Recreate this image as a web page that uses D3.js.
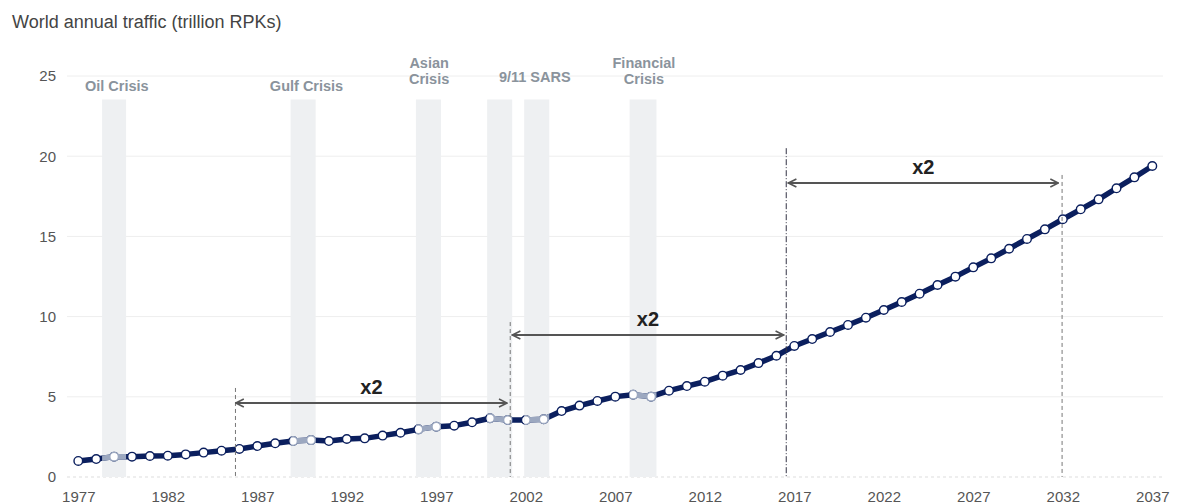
<!DOCTYPE html>
<html>
<head>
<meta charset="utf-8">
<script src="https://cdn.jsdelivr.net/npm/d3@7/dist/d3.min.js"></script>
<style>
  html, body { margin: 0; padding: 0; background: #fff; }
  svg { display: block; font-family: "Liberation Sans", Arial, sans-serif; }
</style>
</head>
<body>
<svg id="chart" width="1177" height="504"></svg>
<script>
// ---- data ----
const years = [1977,1978,1979,1980,1981,1982,1983,1984,1985,1986,1987,1988,1989,1990,1991,1992,1993,1994,1995,1996,
  1997,1998,1999,2000,2001,2002,2003,2004,2005,2006,2007,2008,2009,2010,2011,2012,2013,2014,2015,2016,
  2017,2018,2019,2020,2021,2022,2023,2024,2025,2026,2027,2028,2029,2030,2031,2032,2033,2034,2035,2036,2037];
const traffic = [1.0,1.12,1.27,1.27,1.31,1.33,1.41,1.52,1.64,1.75,1.93,2.1,2.24,2.3,2.24,2.37,2.41,2.58,2.76,2.97,
  3.14,3.2,3.41,3.66,3.55,3.55,3.6,4.11,4.45,4.74,5.01,5.13,5.01,5.38,5.67,5.94,6.32,6.67,7.1,7.56,
  8.17,8.6,9.04,9.48,9.93,10.41,10.91,11.43,11.97,12.49,13.07,13.63,14.23,14.84,15.44,16.07,16.69,17.31,18.0,18.68,19.39];
const yTicks = [0, 5, 10, 15, 20, 25];
const xTicks = [1977, 1982, 1987, 1992, 1997, 2002, 2007, 2012, 2017, 2022, 2027, 2032, 2037];
const crisisStart = [1978.33, 1988.86, 1995.86, 1999.84, 2001.91, 2007.80];
const crisisEnd   = [1979.67, 1990.26, 1997.26, 2001.24, 2003.31, 2009.30];
const crisisLabels = [["Oil Crisis"], ["Gulf Crisis"], ["Asian", "Crisis"], ["9/11 SARS"], [], ["Financial", "Crisis"]];
const crisisLabelYear = [1979.15, 1989.75, 1996.6, 2002.5, null, 2008.6];
const markerYears = [1985.78, 2001.13, 2016.55, 2031.96];
const markerTops = [5.55, 9.66, 20.5, 18.83];
const arrowFrom = [1985.8, 2001.25, 2016.67];
const arrowTo   = [2000.95, 2016.4, 2031.75];
const arrowLevel = [4.61, 8.85, 18.33];
const arrowLabel = ["x2", "x2", "x2"];
const title = "World annual traffic (trillion RPKs)";

// ---- layout ----
const svg = d3.select("#chart");
const x = d3.scaleLinear().domain([1977, 2037]).range([78.3, 1152.3]);
const y = d3.scaleLinear().domain([0, 25]).range([477, 76]);
const navy = "#0b1f5e", light = "#9ca8c0";

svg.append("text").attr("x", 12).attr("y", 28).attr("font-size", 18).attr("fill", "#444").text(title);

// gridlines
svg.append("g").selectAll("line").data(yTicks.filter(d => d > 0)).join("line")
  .attr("x1", 67).attr("x2", 1163).attr("y1", d => y(d)).attr("y2", d => y(d))
  .attr("stroke", "#eeeeee").attr("stroke-width", 1);
svg.append("line").attr("x1", 67).attr("x2", 1163).attr("y1", y(0)).attr("y2", y(0))
  .attr("stroke", "#dddddd").attr("stroke-width", 1).attr("stroke-dasharray", "3,3");

// y axis labels
const yAxis = d3.axisLeft(y).tickValues(yTicks).tickSize(0).tickPadding(0);
const yg = svg.append("g").attr("transform", "translate(56,0)").call(yAxis);
yg.select(".domain").remove();
yg.selectAll("text").attr("font-size", 15).attr("fill", "#555").attr("font-family", "Liberation Sans, Arial, sans-serif");

// x axis labels
const xAxis = d3.axisBottom(x).tickValues(xTicks).tickFormat(d3.format("d")).tickSize(0).tickPadding(0);
const xg = svg.append("g").attr("transform", "translate(0,491)").call(xAxis);
xg.select(".domain").remove();
xg.selectAll("text").attr("font-size", 15).attr("fill", "#555").attr("font-family", "Liberation Sans, Arial, sans-serif");

// crisis bands
const bandTop = 99.5;
svg.append("g").selectAll("rect").data(crisisStart).join("rect")
  .attr("x", (d, i) => x(d)).attr("width", (d, i) => x(crisisEnd[i]) - x(d))
  .attr("y", bandTop).attr("height", y(0) - bandTop)
  .attr("fill", "#eef0f2");

// crisis labels
const lg = svg.append("g").attr("font-size", 14.5).attr("font-weight", "bold").attr("fill", "#8a939c").attr("text-anchor", "middle");
crisisLabels.forEach((lines, i) => {
  if (!lines.length) return;
  const cx = x(crisisLabelYear[i]);
  const base = lines.length === 2 ? 68 : (i === 3 ? 82 : 91);
  lines.forEach((t, j) => lg.append("text").attr("x", cx).attr("y", base + j * 16).text(t));
});

// line + points
const data = years.map((yr, i) => ({ yr, v: traffic[i] }));
const lineGen = d3.line().x(d => x(d.yr)).y(d => y(d.v));

function drawSeries(g, color) {
  g.append("path").datum(data).attr("d", lineGen).attr("fill", "none")
    .attr("stroke", color).attr("stroke-width", 5.5).attr("stroke-linejoin", "round");
  g.append("g").selectAll("circle").data(data).join("circle")
    .attr("cx", d => x(d.yr)).attr("cy", d => y(d.v)).attr("r", 4.3)
    .attr("fill", "#fff").attr("stroke", color).attr("stroke-width", 1.4);
}
drawSeries(svg.append("g"), navy);

// light overlay inside crisis bands
const defs = svg.append("defs");
const cp = defs.append("clipPath").attr("id", "bandclip");
cp.selectAll("rect").data(crisisStart).join("rect")
  .attr("x", d => x(d)).attr("width", (d, i) => x(crisisEnd[i]) - x(d))
  .attr("y", 0).attr("height", 504);
drawSeries(svg.append("g").attr("clip-path", "url(#bandclip)"), light);

// vertical marker lines
markerYears.forEach((yr, i) => {
  svg.append("line")
    .attr("x1", x(yr)).attr("x2", x(yr)).attr("y1", y(markerTops[i])).attr("y2", y(0))
    .attr("stroke", i === 2 ? "#334" : "#777").attr("stroke-width", 1)
    .attr("stroke-dasharray", i === 2 ? "6,2,1,2" : "4,3");
});

// arrows
defs.append("marker").attr("id", "ahead").attr("viewBox", "0 0 10 10").attr("refX", 9).attr("refY", 5)
  .attr("markerWidth", 5).attr("markerHeight", 5).attr("orient", "auto-start-reverse").attr("markerUnits", "strokeWidth")
  .append("path").attr("d", "M1,1 L9,5 L1,9").attr("fill", "none").attr("stroke", "#555").attr("stroke-width", 1.6);
arrowFrom.forEach((a, i) => {
  svg.append("line")
    .attr("x1", x(a)).attr("x2", x(arrowTo[i])).attr("y1", y(arrowLevel[i])).attr("y2", y(arrowLevel[i]))
    .attr("stroke", "#555").attr("stroke-width", 2)
    .attr("marker-start", "url(#ahead)").attr("marker-end", "url(#ahead)");
  svg.append("text").attr("x", (x(a) + x(arrowTo[i])) / 2).attr("y", y(arrowLevel[i]) - 9)
    .attr("text-anchor", "middle").attr("font-size", 20).attr("font-weight", "bold").attr("fill", "#222")
    .text(arrowLabel[i]);
});
</script>
</body>
</html>
